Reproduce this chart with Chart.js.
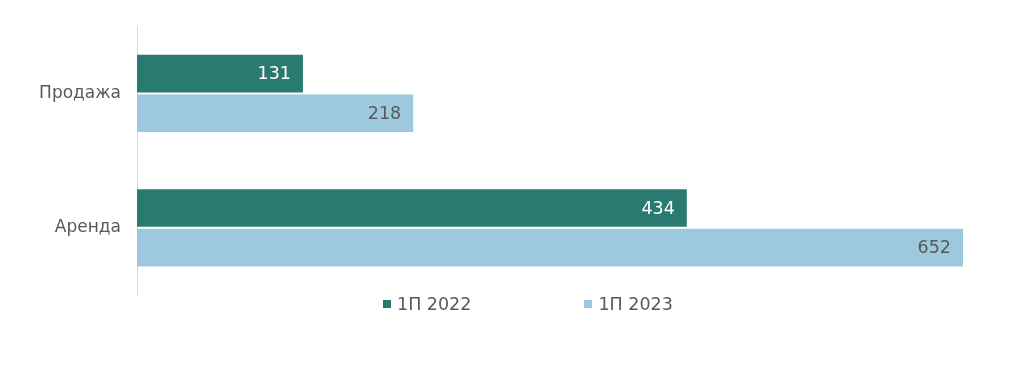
<!DOCTYPE html>
<html>
<head>
<meta charset="utf-8">
<script src="https://cdn.jsdelivr.net/npm/chart.js@4"></script>
<style>
  html, body { margin: 0; padding: 0; background: #fff; }
  #wrap { position: relative; width: 1024px; height: 369px; }
  #legend {
    position: absolute; left: 383px; top: 294px;
    display: flex; gap: 113px;
    font-family: "DejaVu Sans", Verdana, sans-serif; font-size: 17.5px; color: #595959;
  }
  #legend span.item { display: flex; align-items: center; }
  #legend i { display: inline-block; width: 8px; height: 8px; margin-right: 6px; }
</style>
</head>
<body>
<div id="wrap">
  <canvas id="chart" width="1024" height="369"></canvas>
  <div id="legend"></div>
</div>
<script>
const categories = ["Продажа", "Аренда"];
const seriesNames = ["1П 2022", "1П 2023"];
const values2022 = [131, 434];
const values2023 = [218, 652];
const colors = ["#2b7a72", "#9dc9df"];
const labelColors = ["#ffffff", "#595959"];

const FONT = "'DejaVu Sans', Verdana, sans-serif";

// value labels drawn at the inside end of each bar
const valueLabels = {
  id: "valueLabels",
  afterDatasetsDraw(chart) {
    const ctx = chart.ctx;
    ctx.save();
    ctx.font = "17.5px " + FONT;
    ctx.textAlign = "right";
    ctx.textBaseline = "middle";
    chart.data.datasets.forEach((ds, i) => {
      chart.getDatasetMeta(i).data.forEach((bar, j) => {
        ctx.fillStyle = labelColors[i];
        ctx.fillText(ds.data[j], bar.x - 12, bar.y + 1);
      });
    });
    ctx.restore();
  }
};

const chart = new Chart(document.getElementById("chart"), {
  type: "bar",
  data: {
    labels: categories,
    datasets: [
      { label: seriesNames[0], data: values2022, backgroundColor: colors[0] },
      { label: seriesNames[1], data: values2023, backgroundColor: colors[1] }
    ]
  },
  options: {
    indexAxis: "y",
    responsive: false,
    animation: false,
    categoryPercentage: 0.59,
    barPercentage: 0.95,
    layout: { padding: { top: 25, bottom: 74, right: 61, left: 0 } },
    plugins: { legend: { display: false }, tooltip: { enabled: false } },
    scales: {
      x: { display: false, min: 0, max: 652 },
      y: {
        grid: { display: false, drawTicks: false },
        border: { color: "#d9d9d9", width: 1 },
        ticks: { color: "#595959", font: { family: FONT, size: 17 }, padding: 16 },
        afterFit(scale) { scale.width = 137; }
      }
    }
  },
  plugins: [valueLabels]
});

const legend = document.getElementById("legend");
seriesNames.forEach((name, i) => {
  const item = document.createElement("span");
  item.className = "item";
  const sw = document.createElement("i");
  sw.style.background = colors[i];
  item.appendChild(sw);
  item.appendChild(document.createTextNode(name));
  legend.appendChild(item);
});
</script>
</body>
</html>
